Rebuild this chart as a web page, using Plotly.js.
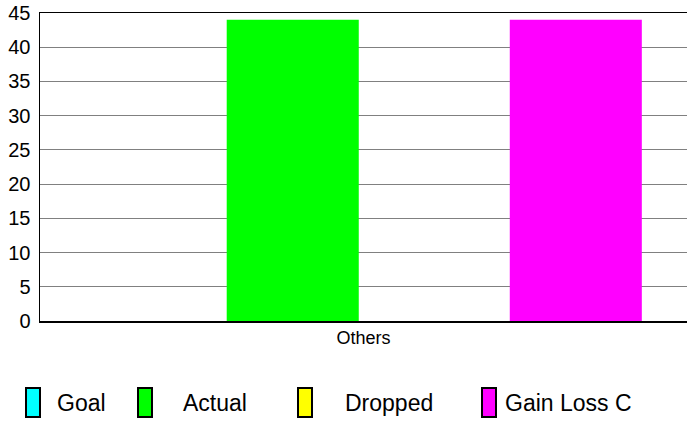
<!DOCTYPE html>
<html>
<head>
<meta charset="utf-8">
<script src="https://cdn.plot.ly/plotly-3.0.1.min.js"></script>
<style>html,body{margin:0;padding:0;background:#fff;}#chart{width:687px;height:422px;}</style>
</head>
<body>
<div id="chart"></div>
<script>
// ---- data ----
const categories = ["Others"];
const seriesNames = ["Goal", "Actual", "Dropped", "Gain Loss C"];
const goalValues = [0];
const actualValues = [44];
const droppedValues = [0];
const gainLossValues = [44];
const yTickValues = [0, 5, 10, 15, 20, 25, 30, 35, 40, 45];

// ---- styles ----
const colors = ["#00ffff", "#00ff00", "#ffff00", "#ff00ff"];
const seriesValues = [goalValues, actualValues, droppedValues, gainLossValues];

const W = 687, H = 422;
const M = {l: 40, r: 0, t: 13, b: 101};
const plotW = W - M.l - M.r, plotH = H - M.t - M.b;
const fx = px => (px - M.l) / plotW;
const fy = py => (H - M.b - py) / plotH;

const traces = seriesNames.map((name, i) => ({
  type: "bar",
  name: name,
  x: categories,
  y: seriesValues[i],
  marker: {color: colors[i], line: {width: 0}},
  showlegend: false,
  hoverinfo: "name+y"
}));

// legend built from series names
const legendBoxX = [26, 138, 298, 482];
const legendTextX = [55, 181, 343, 503];
const shapes = [];
const annotations = [];
seriesNames.forEach((name, i) => {
  shapes.push({
    type: "rect", xref: "paper", yref: "paper",
    x0: fx(legendBoxX[i]), x1: fx(legendBoxX[i] + 14),
    y0: fy(417), y1: fy(388),
    fillcolor: colors[i], line: {color: "#000", width: 2}
  });
  annotations.push({
    xref: "paper", yref: "paper",
    x: fx(legendTextX[i]), y: fy(403),
    xanchor: "left", yanchor: "middle",
    text: name, showarrow: false,
    font: {family: "Liberation Sans, Arial, sans-serif", size: 23, color: "#000"}
  });
});

const layout = {
  width: W, height: H,
  margin: M,
  paper_bgcolor: "#fff", plot_bgcolor: "#fff",
  font: {family: "Liberation Sans, Arial, sans-serif", color: "#000"},
  barmode: "group",
  bargap: 0.125,
  bargroupgap: 0.067,
  showlegend: false,
  xaxis: {
    type: "category",
    showline: true, linecolor: "#000", linewidth: 1.5, mirror: true,
    showgrid: false, ticks: "",
    tickfont: {size: 18, color: "#000"},
    fixedrange: true
  },
  yaxis: {
    range: [0, 45],
    tickvals: yTickValues,
    ticktext: yTickValues.map(String),
    showline: true, linecolor: "#000", linewidth: 1.5,
    showgrid: true, gridcolor: "#808080", gridwidth: 1,
    zeroline: false, ticks: "",
    tickfont: {size: 20, color: "#000"},
    ticklabelstandoff: 4,
    fixedrange: true
  },
  shapes: shapes,
  annotations: annotations
};

Plotly.newPlot("chart", traces, layout, {displayModeBar: false, staticPlot: true});
</script>
</body>
</html>
